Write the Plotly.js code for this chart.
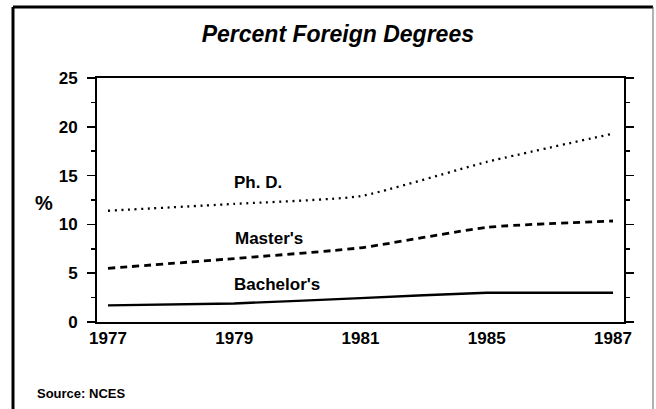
<!DOCTYPE html>
<html>
<head>
<meta charset="utf-8">
<script src="https://cdn.plot.ly/plotly-3.0.1.min.js"></script>
<style>
html,body{margin:0;padding:0;background:#fff;}
#chart{width:656px;height:409px;}
</style>
</head>
<body>
<div id="chart"></div>
<script>
// Data
const years = ["1977", "1979", "1981", "1985", "1987"];
const phd = [11.4, 12.1, 12.9, 16.4, 19.3];
const masters = [5.5, 6.5, 7.6, 9.7, 10.35];
const bachelors = [1.7, 1.9, 2.45, 3.0, 3.0];
const seriesNames = ["Ph. D.", "Master's", "Bachelor's"];
const yTicks = [0, 5, 10, 15, 20, 25];

const FONT = "Liberation Sans, Arial, Helvetica, sans-serif";

const traces = [
  {x: years, y: phd, name: seriesNames[0], mode: "lines",
   line: {color: "#000", width: 2.3, dash: "2px,4.6px", shape: "spline", smoothing: 0.5}},
  {x: years, y: masters, name: seriesNames[1], mode: "lines",
   line: {color: "#000", width: 2.8, dash: "7px,5px", shape: "spline", smoothing: 0.5}},
  {x: years, y: bachelors, name: seriesNames[2], mode: "lines",
   line: {color: "#000", width: 2.4, shape: "spline", smoothing: 0.25}}
];

const labelFont = {family: FONT, size: 17, color: "#000", weight: "bold"};

const layout = {
  width: 656, height: 409,
  margin: {l: 97, r: 32, t: 78, b: 87},
  paper_bgcolor: "#fff", plot_bgcolor: "#fff",
  showlegend: false,
  title: {
    text: "Percent Foreign Degrees",
    font: {family: FONT, size: 23, color: "#000", weight: "bold", style: "italic"},
    x: 0.515, xref: "container", xanchor: "center",
    y: 0.917, yref: "container", yanchor: "middle"
  },
  xaxis: {
    type: "category",
    range: [-0.087, 4.087],
    showline: true, linecolor: "#000", linewidth: 2, mirror: true,
    ticks: "", showgrid: false, zeroline: false,
    tickfont: labelFont,
    ticklabelstandoff: 0
  },
  yaxis: {
    range: [0, 25],
    tickvals: yTicks,
    showline: true, linecolor: "#000", linewidth: 2, mirror: "ticks",
    ticks: "outside", ticklen: 8, tickwidth: 1.5, tickcolor: "#000",
    minor: {dtick: 2.5, ticks: "outside", ticklen: 4, tickwidth: 1.5, tickcolor: "#000", showgrid: false},
    showgrid: false, zeroline: false,
    tickfont: labelFont,
    ticklabelstandoff: 6
  },
  annotations: [
    {text: seriesNames[0], xref: "paper", yref: "paper", x: 0.3055, y: 0.570,
     showarrow: false, font: labelFont, xanchor: "center", yanchor: "middle"},
    {text: seriesNames[1], xref: "paper", yref: "paper", x: 0.3264, y: 0.344,
     showarrow: false, font: labelFont, xanchor: "center", yanchor: "middle"},
    {text: seriesNames[2], xref: "paper", yref: "paper", x: 0.3416, y: 0.152,
     showarrow: false, font: labelFont, xanchor: "center", yanchor: "middle"},
    {text: "%", xref: "paper", yref: "paper", x: -0.1006, y: 0.488,
     showarrow: false, font: {family: FONT, size: 20, color: "#000", weight: "bold"},
     xanchor: "center", yanchor: "middle"},
    {text: "Source: NCES", xref: "paper", yref: "paper", x: -0.1176, y: -0.291,
     showarrow: false, font: {family: FONT, size: 13, color: "#000", weight: "bold"},
     xanchor: "left", yanchor: "middle"}
  ],
  shapes: [
    {type: "line", xref: "paper", yref: "paper", x0: -0.1594, x1: -0.1594, y0: 1.291, y1: -0.42,
     line: {color: "#000", width: 3}},
    {type: "line", xref: "paper", yref: "paper", x0: -0.1594, x1: 1.055, y0: 1.291, y1: 1.291,
     line: {color: "#000", width: 3}},
    {type: "line", xref: "paper", yref: "paper", x0: 1.055, x1: 1.055, y0: 1.291, y1: -0.42,
     line: {color: "#666", width: 1}}
  ]
};

Plotly.newPlot("chart", traces, layout, {staticPlot: true, displayModeBar: false});
</script>
</body>
</html>
